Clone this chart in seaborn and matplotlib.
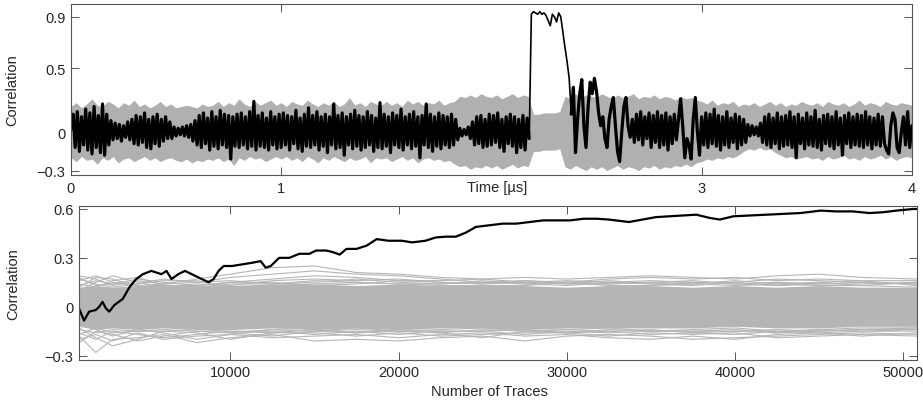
import numpy as np
import pandas as pd
import matplotlib
matplotlib.use("Agg")
import matplotlib.pyplot as plt
import seaborn as sns

# ---------------- top panel: correlation over time ----------------
# correct key guess, sampled every 0.01 us from 0 to 4 us
black_trace = [
    0.02, 0.14, -0.12, 0.16, -0.15, 0.12, -0.1, 0.18, -0.14, 0.15, -0.17, 0.2, -0.12, 0.13, -0.16, 0.22, -0.18, 0.14, -0.1, 0.09,
    -0.06, 0.07, -0.05, 0.06, -0.07, 0.05, -0.04, 0.08, -0.06, 0.1, -0.09, 0.13, -0.1, 0.12, -0.08, 0.15, -0.12, 0.1, -0.13, 0.12,
    -0.09, 0.14, -0.11, 0.1, -0.07, 0.12, -0.05, 0.08, -0.05, 0.04, -0.03, 0.03, -0.02, 0.04, -0.03, 0.05, -0.04, 0.06, -0.07, 0.09,
    -0.1, 0.13, -0.12, 0.15, -0.09, 0.11, -0.14, 0.16, -0.11, 0.12, -0.13, 0.17, -0.1, 0.14, -0.12, 0.13, -0.21, 0.12, -0.11, 0.14,
    -0.12, 0.15, -0.1, 0.12, -0.13, 0.16, -0.11, 0.24, -0.14, 0.13, -0.11, 0.15, -0.12, 0.11, -0.14, 0.16, -0.1, 0.12, -0.13, 0.14,
    -0.12, 0.15, -0.1, 0.13, -0.14, 0.12, -0.09, 0.17, -0.13, 0.11, -0.15, 0.14, -0.11, 0.19, -0.12, 0.13, -0.1, 0.16, -0.14, 0.12,
    -0.11, 0.14, -0.16, 0.12, -0.1, 0.22, -0.13, 0.13, -0.12, 0.15, -0.18, 0.12, -0.1, 0.14, -0.13, 0.17, -0.11, 0.13, -0.14, 0.12,
    -0.12, 0.16, -0.1, 0.13, -0.15, 0.11, -0.12, 0.23, -0.13, 0.14, -0.11, 0.12, -0.16, 0.15, -0.1, 0.13, -0.12, 0.18, -0.14, 0.12,
    -0.1, 0.14, -0.13, 0.16, -0.11, 0.12, -0.2, 0.13, -0.1, 0.22, -0.12, 0.14, -0.15, 0.12, -0.11, 0.15, -0.13, 0.13, -0.1, 0.12,
    -0.12, 0.14, -0.1, 0.1, -0.06, 0.03, -0.03, 0.02, -0.02, 0.04, -0.05, 0.08, -0.1, 0.12, -0.09, 0.13, -0.12, 0.1, -0.11, 0.14,
    -0.1, 0.13, -0.08, 0.15, -0.12, 0.1, -0.15, 0.12, -0.09, 0.14, -0.11, 0.12, -0.16, 0.1, -0.12, 0.13, -0.14, 0.11, -0.05, 0.92,
    0.94, 0.93, 0.92, 0.94, 0.92, 0.93, 0.91, 0.87, 0.83, 0.92, 0.9, 0.86, 0.93, 0.9, 0.78, 0.66, 0.55, 0.42, 0.14, 0.35,
    -0.16, 0.1, 0.3, 0.41, 0.05, -0.12, 0.2, 0.39, 0.3, 0.42, 0.32, 0.15, 0.05, 0.12, -0.05, -0.12, 0.1, 0.2, 0.27, 0.05,
    -0.15, -0.23, 0.0, 0.2, 0.27, 0.05, -0.04, 0.1, -0.08, 0.14, -0.06, 0.16, -0.1, 0.12, -0.05, 0.15, -0.12, 0.13, -0.08, 0.16,
    -0.12, 0.13, -0.1, 0.15, -0.14, 0.12, -0.09, 0.14, -0.06, 0.1, 0.26, 0.05, -0.2, -0.05, -0.1, -0.21, 0.1, 0.27, 0.0, -0.18,
    0.12, -0.1, 0.15, -0.12, 0.14, -0.09, 0.18, -0.11, 0.13, -0.14, 0.12, -0.1, 0.16, -0.12, 0.11, -0.08, 0.14, -0.13, 0.12, -0.1,
    0.1, -0.08, 0.06, -0.03, 0.05, -0.02, 0.04, -0.03, 0.07, -0.08, 0.12, -0.1, 0.14, -0.12, 0.11, -0.09, 0.15, -0.13, 0.12, -0.11,
    0.13, -0.1, 0.16, -0.12, 0.12, -0.2, 0.14, -0.09, 0.11, -0.13, 0.15, -0.1, 0.12, -0.11, 0.17, -0.12, 0.1, -0.14, 0.13, -0.09,
    0.14, -0.11, 0.12, -0.13, 0.16, -0.1, 0.11, -0.18, 0.13, -0.09, 0.15, -0.12, 0.12, -0.1, 0.14, -0.11, 0.13, -0.12, 0.16, -0.1,
    0.12, -0.13, 0.11, -0.1, 0.14, -0.11, 0.12, -0.09, -0.14, -0.17, 0.05, 0.15, 0.1, -0.12, -0.16, 0.0, 0.12, -0.1, 0.16, -0.12,
    0.05,
]
time_us = np.round(np.arange(len(black_trace)) * 0.01, 2)

# envelope of all the wrong key guesses, every 0.025 us
gray_upper = [
    0.2, 0.23, 0.19, 0.22, 0.26, 0.21, 0.2, 0.24, 0.22, 0.19, 0.23, 0.21, 0.25, 0.2, 0.22, 0.19, 0.21, 0.24, 0.2, 0.22,
    0.19, 0.2, 0.21, 0.2, 0.19, 0.22, 0.2, 0.21, 0.24, 0.2, 0.23, 0.21, 0.26, 0.22, 0.2, 0.24, 0.21, 0.23, 0.25, 0.21,
    0.23, 0.2, 0.24, 0.22, 0.21, 0.25, 0.22, 0.2, 0.23, 0.21, 0.24, 0.2, 0.22, 0.27, 0.21, 0.23, 0.2, 0.24, 0.22, 0.21,
    0.24, 0.21, 0.23, 0.2, 0.25, 0.22, 0.24, 0.21, 0.23, 0.22, 0.25, 0.21, 0.23, 0.24, 0.28, 0.27, 0.29, 0.27, 0.3, 0.28,
    0.27, 0.29, 0.26, 0.28, 0.3, 0.27, 0.29, 0.28, 0.14, 0.14, 0.15, 0.15, 0.15, 0.16, 0.28, 0.26, 0.3, 0.27, 0.29, 0.28,
    0.27, 0.3, 0.28, 0.26, 0.29, 0.27, 0.28, 0.3, 0.26, 0.28, 0.27, 0.29, 0.26, 0.28, 0.27, 0.25, 0.28, 0.26, 0.27, 0.25,
    0.24, 0.22, 0.25, 0.21, 0.23, 0.22, 0.24, 0.2, 0.22, 0.21, 0.23, 0.2, 0.22, 0.24, 0.21, 0.23, 0.2, 0.22, 0.21, 0.24,
    0.22, 0.21, 0.23, 0.2, 0.24, 0.22, 0.21, 0.23, 0.2, 0.22, 0.25, 0.21, 0.23, 0.22, 0.2, 0.24, 0.22, 0.21, 0.23, 0.22,
    0.21,
]
gray_lower = [
    -0.2, -0.23, -0.19, -0.22, -0.21, -0.25, -0.2, -0.22, -0.19, -0.24, -0.21, -0.2, -0.23, -0.21, -0.19, -0.22, -0.2, -0.23, -0.21, -0.2,
    -0.22, -0.23, -0.21, -0.24, -0.22, -0.23, -0.21, -0.22, -0.2, -0.23, -0.21, -0.26, -0.2, -0.22, -0.19, -0.21, -0.2, -0.23, -0.21, -0.19,
    -0.21, -0.19, -0.22, -0.2, -0.23, -0.19, -0.21, -0.24, -0.2, -0.22, -0.19, -0.21, -0.23, -0.2, -0.22, -0.21, -0.19, -0.24, -0.2, -0.21,
    -0.2, -0.23, -0.21, -0.19, -0.22, -0.2, -0.24, -0.21, -0.2, -0.22, -0.21, -0.23, -0.22, -0.25, -0.27, -0.26, -0.29, -0.27, -0.28, -0.26,
    -0.28, -0.26, -0.29, -0.27, -0.25, -0.28, -0.26, -0.27, -0.15, -0.15, -0.14, -0.14, -0.14, -0.13, -0.27, -0.29, -0.26, -0.28, -0.3, -0.27,
    -0.29, -0.27, -0.3, -0.28, -0.26, -0.29, -0.27, -0.28, -0.3, -0.27, -0.28, -0.26, -0.29, -0.27, -0.28, -0.26, -0.27, -0.25, -0.27, -0.24,
    -0.23, -0.21, -0.22, -0.2, -0.21, -0.19, -0.2, -0.18, -0.15, -0.13, -0.14, -0.12, -0.14, -0.13, -0.16, -0.18, -0.2, -0.19, -0.21, -0.2,
    -0.19, -0.21, -0.2, -0.22, -0.19, -0.21, -0.2, -0.18, -0.21, -0.2, -0.22, -0.19, -0.21, -0.2, -0.18, -0.21, -0.19, -0.22, -0.2, -0.19,
    -0.2,
]
band_time = np.round(np.arange(len(gray_upper)) * 0.025, 3)

# ---------------- bottom panel: correlation vs number of traces ----------------
key_traces = [1000, 1300, 1600, 2000, 2200, 2400, 2600, 2800, 3100, 3600,
              4000, 4400, 4800, 5300, 5600, 5900, 6200, 6500, 6900, 7300,
              7700, 8100, 8700, 9000, 9300, 9600, 10100, 10700, 11300, 11800,
              12100, 12400, 12900, 13500, 14100, 14700, 15100, 15700, 16100, 16500,
              16900, 17500, 18100, 18700, 19400, 20200, 20800, 21600, 22200, 22800,
              23400, 24000, 24600, 25400, 26200, 27000, 27800, 28600, 29400, 30200,
              31000, 31800, 32500, 33700, 34500, 35300, 36100, 36900, 37700, 38500,
              39100, 39900, 40900, 41900, 42900, 43900, 45100, 46000, 47000, 48000,
              48800, 49600, 50600, 50800]
key_corr = [-0.01, -0.085, -0.03, -0.02, 0.0, 0.03, -0.01, -0.03, 0.01, 0.048,
            0.12, 0.17, 0.2, 0.22, 0.21, 0.2, 0.22, 0.17, 0.2, 0.22,
            0.2, 0.18, 0.15, 0.17, 0.22, 0.25, 0.25, 0.26, 0.27, 0.28,
            0.24, 0.25, 0.3, 0.3, 0.325, 0.325, 0.345, 0.345, 0.335, 0.32,
            0.355, 0.355, 0.375, 0.415, 0.405, 0.405, 0.395, 0.405, 0.425, 0.43,
            0.43, 0.455, 0.49, 0.5, 0.51, 0.51, 0.52, 0.53, 0.53, 0.53,
            0.54, 0.54, 0.535, 0.52, 0.535, 0.55, 0.555, 0.56, 0.565, 0.545,
            0.535, 0.555, 0.56, 0.565, 0.57, 0.575, 0.59, 0.585, 0.585, 0.575,
            0.58, 0.59, 0.6, 0.6]

wrong_traces = [1000, 2000, 3000, 4500, 6000, 8000, 10000, 12500, 15000, 17500, 20000, 22500,
                25000, 27500, 30000, 32500, 35000, 37500, 40000, 42500, 45000, 47500, 50800]
wrong_core_hi = [0.12, 0.13, 0.12, 0.13, 0.14, 0.13, 0.13, 0.14, 0.14, 0.13, 0.14, 0.13,
                 0.13, 0.13, 0.12, 0.13, 0.13, 0.12, 0.13, 0.12, 0.13, 0.12, 0.12]
wrong_core_lo = [-0.12, -0.14, -0.13, -0.14, -0.13, -0.14, -0.14, -0.13, -0.14, -0.13, -0.14, -0.13,
                 -0.13, -0.14, -0.13, -0.13, -0.13, -0.13, -0.12, -0.13, -0.13, -0.12, -0.12]
wrong_outliers = {
    "u1": [0.16, 0.19, 0.15, 0.13, 0.14, 0.17, 0.2, 0.24, 0.25, 0.21, 0.2, 0.18, 0.17, 0.18, 0.17, 0.18, 0.19, 0.18, 0.17, 0.19, 0.2, 0.18, 0.17],
    "u2": [0.19, 0.17, 0.13, 0.16, 0.14, 0.15, 0.18, 0.2, 0.22, 0.2, 0.19, 0.17, 0.15, 0.16, 0.15, 0.17, 0.18, 0.17, 0.18, 0.16, 0.17, 0.16, 0.16],
    "u3": [0.12, 0.18, 0.17, 0.12, 0.13, 0.13, 0.15, 0.17, 0.19, 0.18, 0.16, 0.16, 0.17, 0.15, 0.16, 0.15, 0.16, 0.15, 0.15, 0.17, 0.16, 0.15, 0.14],
    "u4": [0.1, 0.15, 0.19, 0.15, 0.12, 0.14, 0.13, 0.16, 0.17, 0.16, 0.17, 0.15, 0.14, 0.16, 0.14, 0.14, 0.15, 0.16, 0.14, 0.15, 0.14, 0.14, 0.15],
    "u5": [0.14, 0.12, 0.16, 0.18, 0.13, 0.12, 0.14, 0.14, 0.15, 0.17, 0.15, 0.14, 0.15, 0.14, 0.13, 0.15, 0.14, 0.13, 0.15, 0.13, 0.15, 0.16, 0.13],
    "u6": [0.17, 0.14, 0.12, 0.14, 0.16, 0.16, 0.12, 0.13, 0.14, 0.15, 0.14, 0.13, 0.13, 0.13, 0.15, 0.13, 0.13, 0.14, 0.13, 0.14, 0.13, 0.13, 0.12],
    "u7": [0.13, 0.16, 0.14, 0.17, 0.15, 0.13, 0.15, 0.15, 0.13, 0.14, 0.16, 0.15, 0.14, 0.15, 0.14, 0.16, 0.14, 0.15, 0.14, 0.13, 0.14, 0.15, 0.14],
    "u8": [0.18, 0.13, 0.14, 0.14, 0.17, 0.15, 0.16, 0.14, 0.16, 0.15, 0.14, 0.14, 0.16, 0.14, 0.15, 0.14, 0.15, 0.14, 0.16, 0.14, 0.15, 0.13, 0.15],
    "l1": [-0.18, -0.28, -0.2, -0.19, -0.17, -0.22, -0.19, -0.17, -0.21, -0.2, -0.21, -0.19, -0.18, -0.21, -0.18, -0.17, -0.18, -0.2, -0.19, -0.18, -0.17, -0.16, -0.17],
    "l2": [-0.2, -0.17, -0.21, -0.16, -0.2, -0.18, -0.17, -0.19, -0.18, -0.17, -0.19, -0.17, -0.16, -0.18, -0.17, -0.19, -0.2, -0.18, -0.2, -0.17, -0.16, -0.18, -0.16],
    "l3": [-0.13, -0.19, -0.24, -0.2, -0.15, -0.16, -0.2, -0.16, -0.16, -0.18, -0.16, -0.18, -0.17, -0.16, -0.16, -0.18, -0.16, -0.17, -0.16, -0.19, -0.18, -0.17, -0.18],
    "l4": [-0.22, -0.15, -0.17, -0.21, -0.18, -0.15, -0.16, -0.18, -0.15, -0.16, -0.15, -0.16, -0.19, -0.15, -0.16, -0.15, -0.17, -0.16, -0.17, -0.15, -0.16, -0.15, -0.15],
    "l5": [-0.16, -0.2, -0.15, -0.17, -0.19, -0.17, -0.15, -0.15, -0.17, -0.15, -0.17, -0.15, -0.15, -0.17, -0.15, -0.16, -0.15, -0.15, -0.15, -0.16, -0.15, -0.14, -0.14],
    "l6": [-0.1, -0.14, -0.18, -0.14, -0.16, -0.2, -0.17, -0.14, -0.15, -0.13, -0.15, -0.14, -0.13, -0.15, -0.14, -0.13, -0.15, -0.14, -0.13, -0.15, -0.14, -0.13, -0.13],
    "l7": [-0.14, -0.16, -0.14, -0.15, -0.14, -0.15, -0.16, -0.14, -0.15, -0.14, -0.15, -0.16, -0.14, -0.15, -0.14, -0.15, -0.14, -0.16, -0.15, -0.14, -0.15, -0.14, -0.13],
    "l8": [-0.17, -0.13, -0.16, -0.15, -0.15, -0.14, -0.15, -0.16, -0.14, -0.16, -0.14, -0.15, -0.15, -0.14, -0.16, -0.14, -0.15, -0.15, -0.14, -0.16, -0.14, -0.15, -0.14],
}

# ---------------- plotting ----------------
sns.set_style("ticks")
plt.rcParams["font.family"] = ["Liberation Sans", "DejaVu Sans"]
plt.rcParams["axes.unicode_minus"] = True

GRAY_TOP = "#b0b0b0"
GRAY_BOT = "#b5b5b5"
SPINE = "#555555"

fig = plt.figure(figsize=(9.23, 4.02), dpi=100)
ax1 = fig.add_axes([0.0769, 0.562, 0.911, 0.4256])
ax2 = fig.add_axes([0.0856, 0.1027, 0.9075, 0.3831])

# top panel: gray band, then the key trace (dense noise drawn heavier than the peak)
ax1.fill_between(band_time, gray_lower, gray_upper, color=GRAY_TOP, lw=0)
sns.lineplot(x=time_us, y=black_trace, ax=ax1, color="black", lw=1.2,
             estimator=None, sort=False, errorbar=None)
black_arr = np.array(black_trace)
for seg in (time_us <= 2.18, time_us >= 2.38):
    sns.lineplot(x=time_us[seg], y=black_arr[seg], ax=ax1, color="black", lw=2.3,
                 estimator=None, sort=False, errorbar=None)
ax1.set_xlim(0, 4)
ax1.set_ylim(-0.335, 1.0)
ax1.set_xticks([0, 1, 3, 4])
ax1.set_xticklabels(["0", "1", "3", "4"])
ax1.set_yticks([-0.3, 0, 0.5, 0.9])
ax1.set_yticklabels(["\u22120.3", "0", "0.5", "0.9"])
ax1.set_xlabel("Time [\u00b5s]", fontsize=10.5)
ax1.xaxis.set_label_coords(0.507, -0.03)
ax1.set_ylabel("Correlation", fontsize=10.5)
ax1.yaxis.set_label_coords(-0.061, 0.5)

# bottom panel
wrong_df = pd.DataFrame(
    [(name, n, c) for name, vals in wrong_outliers.items() for n, c in zip(wrong_traces, vals)],
    columns=["guess", "traces", "corr"],
)
ax2.fill_between(wrong_traces, wrong_core_lo, wrong_core_hi, color=GRAY_BOT, lw=0)
sns.lineplot(data=wrong_df, x="traces", y="corr", units="guess", estimator=None,
             color=GRAY_BOT, lw=0.8, ax=ax2)
sns.lineplot(x=key_traces, y=key_corr, ax=ax2, color="black", lw=1.6,
             estimator=None, sort=False, errorbar=None)
ax2.set_xlim(1000, 50800)
ax2.set_ylim(-0.325, 0.62)
ax2.set_xticks([10000, 20000, 30000, 40000, 50000])
ax2.set_xticklabels(["10000", "20000", "30000", "40000", "50000"])
ax2.set_yticks([-0.3, 0, 0.3, 0.6])
ax2.set_yticklabels(["\u22120.3", "0", "0.3", "0.6"])
ax2.set_xlabel("Number of Traces", fontsize=10.5)
ax2.xaxis.set_label_coords(0.49, -0.155)
ax2.set_ylabel("Correlation", fontsize=10.5)
ax2.yaxis.set_label_coords(-0.07, 0.5)

for ax in (ax1, ax2):
    ax.tick_params(direction="in", top=True, right=True, length=5.5, width=0.7,
                   color=SPINE, labelsize=10.5, pad=4)
    for s in ax.spines.values():
        s.set_color(SPINE)
        s.set_linewidth(0.8)
    ax.set_facecolor("white")

fig.savefig("out.png", dpi=100)
